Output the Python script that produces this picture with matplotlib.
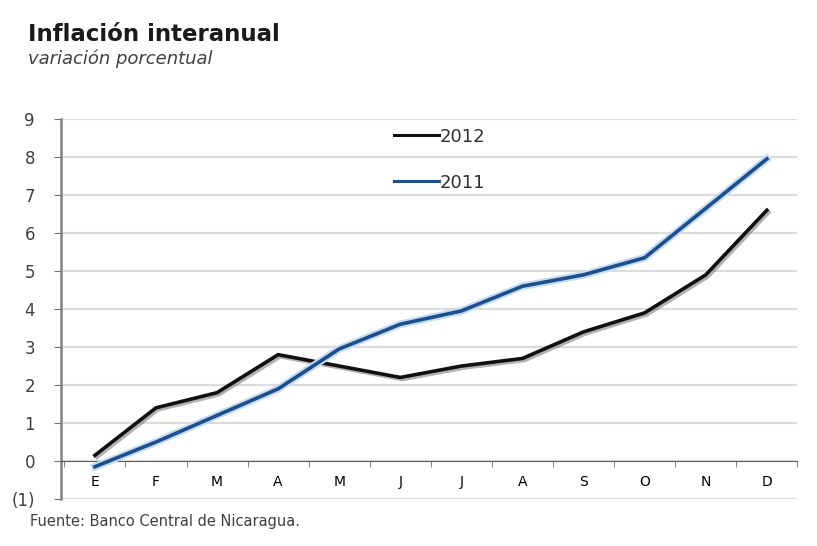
import matplotlib.pyplot as plt
import matplotlib.patheffects as pe
import numpy as np

# datos: inflación interanual (%)
meses = ['E', 'F', 'M', 'A', 'M', 'J', 'J', 'A', 'S', 'O', 'N', 'D']
infl_2012 = [0.15, 1.4, 1.8, 2.8, 2.5, 2.2, 2.5, 2.7, 3.4, 3.9, 4.9, 6.6]
infl_2011 = [-0.15, 0.5, 1.2, 1.9, 2.95, 3.6, 3.95, 4.6, 4.9, 5.35, 6.65, 7.95]
yticks = [-1, 0, 1, 2, 3, 4, 5, 6, 7, 8, 9]
ytick_labels = ['(1)', '0', '1', '2', '3', '4', '5', '6', '7', '8', '9']

plt.rcParams['font.family'] = ['DejaVu Sans']

fig = plt.figure(figsize=(8.17, 5.46), dpi=100)
ax = fig.add_axes([0.075, 0.086, 0.901, 0.696])

x = np.arange(len(meses))

# cuadrícula
for y in yticks:
    ax.axhline(y, color='#dcdcdc', linewidth=1.6, zorder=0)

sombra_negra = [pe.SimpleLineShadow(offset=(1.5, -1.5), shadow_color='#808080', alpha=0.6),
                pe.Normal()]
sombra_azul = [pe.Stroke(linewidth=5.5, foreground='#c4dcf2'), pe.Normal()]

ax.plot(x, infl_2012, color='#111111', linewidth=2.6, label='2012',
        path_effects=sombra_negra, zorder=3)
ax.plot(x, infl_2011, color='#1f4e8c', linewidth=2.6, label='2011',
        path_effects=sombra_azul, zorder=3)

ax.set_xlim(-0.55, len(meses) - 0.5)
ax.set_ylim(-1, 9)

ax.set_xticks(x)
ax.set_xticklabels(meses, fontsize=9, color='#505050')
ax.set_xticks(np.arange(-0.5, len(meses)), minor=True)
ax.tick_params(axis='x', which='major', length=0, pad=10)
ax.tick_params(axis='x', which='minor', length=4, color='#707070', direction='out')

ax.set_yticks(yticks)
ax.set_yticklabels(ytick_labels, fontsize=12, color='#404040')
ax.tick_params(axis='y', length=5, color='#707070', pad=14)

for s in ['top', 'right']:
    ax.spines[s].set_visible(False)
ax.spines['bottom'].set_position(('data', 0))
ax.spines['bottom'].set_color('#606060')
ax.spines['left'].set_color('#808080')
ax.spines['left'].set_linewidth(1.8)

# leyenda con líneas finas, como en el original
h1, = ax.plot([], [], color='#111111', linewidth=2.2)
h2, = ax.plot([], [], color='#1f4e8c', linewidth=2.2)
leg = ax.legend([h1, h2], ['2012', '2011'], loc='upper left',
                bbox_to_anchor=(0.43, 1.02), frameon=False,
                fontsize=13, handlelength=2.5, handletextpad=0.0,
                labelspacing=1.55)
for t in leg.get_texts():
    t.set_color('#303030')

fig.text(0.034, 0.925, 'Inflación interanual', fontsize=16.5, fontweight='bold',
         color='#1a1a1a')
fig.text(0.034, 0.882, 'variación porcentual', fontsize=13, style='italic',
         color='#404040')
fig.text(0.037, 0.037, 'Fuente: Banco Central de Nicaragua.', fontsize=10.5,
         color='#404040')

fig.savefig('out.png', dpi=100)
